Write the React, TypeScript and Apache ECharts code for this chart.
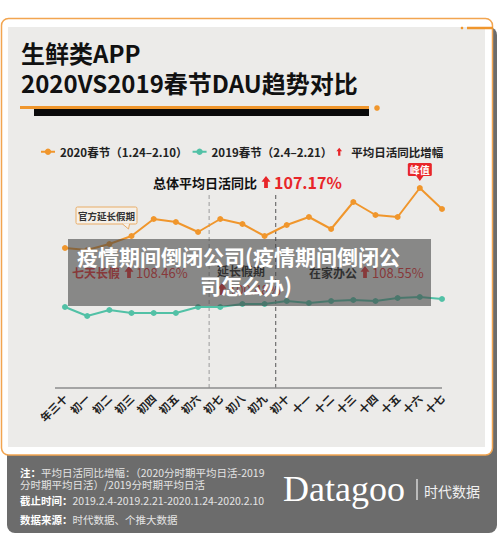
import React, { useEffect, useRef } from 'react';
import * as echarts from 'echarts';

const categories = ['年三十', '初一', '初二', '初三', '初四', '初五', '初六', '初七', '初八', '初九', '初十', '十一', '十二', '十三', '十四', '十五', '十六', '十七'];
const dau2020 = [140, 138, 144, 152, 169, 166, 156, 169, 164, 152, 163, 171, 159, 186, 173, 171, 200, 179];
const dau2019 = [81, 72, 78, 75, 75, 75, 81, 81, 84, 84, 87, 85, 87, 88, 87, 90, 91, 89];
const seriesNames = ['2020春节（1.24–2.10）', '2019春节（2.4–2.21）'];
const growthLegend = '平均日活同比增幅';
const titleLines = ['生鲜类APP', '2020VS2019春节DAU趋势对比'];
const overallLabel = '总体平均日活同比';
const overallGrowth = '107.17%';
const phaseNames = ['七天长假', '延长假期', '在家办公'];
const phaseGrowth = ['108.46%', '100.48%', '108.55%'];
const phaseBoundaries = [7, 10];
const calloutText = '官方延长假期';
const calloutIndex = 3;
const peakText = '峰值';
const watermarkLines = ['疫情期间倒闭公司(疫情期间倒闭公', '司怎么办)'];
const noteLabel = '注：';
const noteLines = ['平均日活同比增幅：（2020分时期平均日活-2019', '分时期平均日活）/2019分时期平均日活'];
const periodLabel = '截止时间：';
const periodText = '2019.2.4-2019.2.21-2020.1.24-2020.2.10';
const sourceLabel = '数据来源：';
const sourceText = '时代数据、个推大数据';
const brandText = 'Datagoo';
const brandCn = '时代数据';

const FONT = '"Noto Sans CJK SC", "Noto Sans", sans-serif';
const ORANGE = '#f0962c';
const TEAL = '#52c1a6';
const RED = '#e8262a';

function arrow(cx: number, top: number, h: number, w: number, color: string, z: number) {
  const hh = h * 0.48;
  const sw = w * 0.42;
  return {
    type: 'polygon',
    z,
    shape: {
      points: [
        [cx, top], [cx + w / 2, top + hh], [cx + sw / 2, top + hh], [cx + sw / 2, top + h],
        [cx - sw / 2, top + h], [cx - sw / 2, top + hh], [cx - w / 2, top + hh],
      ],
    },
    style: { fill: color },
  };
}

function txt(text: string, x: number, y: number, size: number, color: string, weight: string, z: number, align = 'left', family = FONT) {
  return {
    type: 'text',
    x,
    y,
    z,
    style: { text, fill: color, fontSize: size, fontWeight: weight, fontFamily: family, textAlign: align, textVerticalAlign: 'middle' },
  };
}

export default function App() {
  const ref = useRef<HTMLDivElement>(null);
  useEffect(() => {
    if (!ref.current) return;
    const chart = echarts.init(ref.current, undefined, { renderer: 'svg' });
    const option: any = {
      animation: false,
      backgroundColor: '#ffffff',
      grid: { left: 65, right: 58, top: 178, bottom: 157, containLabel: false },
      legend: {
        left: 35,
        top: 141,
        itemWidth: 14,
        itemHeight: 8,
        itemGap: 4,
        selectedMode: false,
        z: 10,
        textStyle: { fontSize: 11.5, fontWeight: 'bold', color: '#222', fontFamily: FONT },
        data: [
          { name: seriesNames[0] },
          { name: seriesNames[1] },
          { name: growthLegend, icon: 'path://M5,0L10,6L7,6L7,14L3,14L3,6L0,6Z', itemStyle: { color: RED } },
        ],
      },
      xAxis: {
        type: 'category',
        data: categories,
        boundaryGap: false,
        z: 10,
        axisLine: { show: false },
        axisTick: { show: false },
        axisLabel: { rotate: 45, interval: 0, fontSize: 11, fontWeight: 'bold', color: '#222', margin: 8, fontFamily: FONT },
        splitLine: { show: false },
      },
      yAxis: { type: 'value', min: 0, max: 210, show: false, splitLine: { show: false } },
      series: [
        {
          name: seriesNames[0], type: 'line', data: dau2020, z: 10, symbol: 'circle', symbolSize: 6,
          color: ORANGE, lineStyle: { width: 2, color: ORANGE }, itemStyle: { color: ORANGE },
        },
        {
          name: seriesNames[1], type: 'line', data: dau2019, z: 10, symbol: 'circle', symbolSize: 6,
          color: TEAL, lineStyle: { width: 2, color: TEAL }, itemStyle: { color: TEAL },
        },
        { name: growthLegend, type: 'line', data: [], color: RED },
      ],
    };
    chart.setOption(option);

    const px = (i: number, v: number) => chart.convertToPixel({ gridIndex: 0 }, [i, v]) as number[];
    const axisY = px(0, 0)[1];
    const firstX = px(0, 0)[0];
    const lastX = px(categories.length - 1, 0)[0];
    const dashed = phaseBoundaries.map((b, k) => {
      const x = (px(b - 1, 0)[0] + px(b, 0)[0]) / 2;
      return {
        type: 'line', z: 5,
        shape: { x1: x, y1: 195, x2: x, y2: axisY },
        style: { stroke: k === 0 ? '#a8a8a8' : '#6e6e6e', lineWidth: 1.2, lineDash: [4, 3] },
      };
    });
    let peakIdx = 0;
    dau2020.forEach((v, i) => { if (v > dau2020[peakIdx]) peakIdx = i; });
    const peak = px(peakIdx, dau2020[peakIdx]);
    const call = px(calloutIndex, dau2020[calloutIndex]);

    const graphics: any[] = [
      { type: 'rect', z: 0, shape: { x: 7, y: 27, width: 490, height: 506, r: 8 }, style: { fill: '#6c6c6c' } },
      { type: 'rect', z: 1, shape: { x: 1.5, y: 18.5, width: 491, height: 436.5, r: 7 }, style: { fill: '#ffffff', stroke: '#f2a550', lineWidth: 1.5 } },
      { type: 'rect', z: 2, shape: { x: 8, y: 27, width: 477, height: 420 }, style: { fill: '#ecebe9' } },
      { type: 'line', z: 3, shape: { x1: 467, y1: 28, x2: 493, y2: 28 }, style: { stroke: ORANGE, lineWidth: 2.5 } },
      { type: 'circle', z: 3, shape: { cx: 462, cy: 28, r: 1.3 }, style: { fill: ORANGE } },
      txt(titleLines[0], 21, 52, 24, '#111', 'bold', 3),
      txt(titleLines[1], 21, 82, 24, '#111', 'bold', 3),
      { type: 'rect', z: 3, shape: { x: 20, y: 106, width: 349, height: 3 }, style: { fill: ORANGE } },
      { type: 'rect', z: 3, shape: { x: 34, y: 109, width: 335, height: 7 }, style: { fill: '#0a0a0a' } },
      { type: 'circle', z: 3, shape: { cx: 377, cy: 108, r: 2.8 }, style: { fill: ORANGE } },
      txt(overallLabel, 153, 182, 13, '#111', 'bold', 3),
      arrow(266, 176, 12, 9, RED, 3),
      txt(overallGrowth, 274, 182, 16, RED, 'bold', 3),
      ...dashed,
      { type: 'line', z: 5, shape: { x1: firstX - 10, y1: axisY, x2: lastX, y2: axisY }, style: { stroke: '#8c8c8c', lineWidth: 1.5 } },
      // callout
      { type: 'rect', z: 20, shape: { x: 76, y: 207, width: 61, height: 17, r: 1.5 }, style: { fill: '#f5f0e9', stroke: '#e9ac66', lineWidth: 1 } },
      { type: 'polygon', z: 21, shape: { points: [[call[0] - 9, 223.5], [call[0] - 2, 223.5], [call[0] - 3, call[1] - 7]] }, style: { fill: '#f5f0e9' } },
      { type: 'polyline', z: 21, shape: { points: [[call[0] - 9, 224], [call[0] - 3, call[1] - 7], [call[0] - 2, 224]] }, style: { stroke: '#e9ac66', lineWidth: 1, fill: null } },
      txt(calloutText, 106.5, 215.5, 9.5, '#333', 'bold', 22, 'center'),
      // peak
      { type: 'rect', z: 20, shape: { x: peak[0] - 12, y: peak[1] - 25, width: 24, height: 13, r: 1.5 }, style: { fill: RED } },
      { type: 'polygon', z: 20, shape: { points: [[peak[0] - 4, peak[1] - 12.5], [peak[0] + 4, peak[1] - 12.5], [peak[0], peak[1] - 7]] }, style: { fill: RED } },
      txt(peakText, peak[0], peak[1] - 18.5, 10, '#fff', 'bold', 22, 'center'),
      // phases
      txt(phaseNames[0], 72, 272, 12, RED, 'bold', 20),
      arrow(129, 266, 12, 9, RED, 20),
      txt(phaseGrowth[0], 136, 272, 13, RED, 'normal', 20),
      txt(phaseNames[1], 217, 270, 12, '#111', 'bold', 20),
      arrow(222, 283, 12, 9, RED, 20),
      txt(phaseGrowth[1], 229, 289, 13, RED, 'normal', 20),
      txt(phaseNames[2], 309, 272, 12, '#111', 'bold', 20),
      arrow(365, 266, 12, 9, RED, 20),
      txt(phaseGrowth[2], 372, 272, 13, RED, 'normal', 20),
      // watermark overlay
      { type: 'rect', z: 100, shape: { x: 68, y: 239, width: 363, height: 67 }, style: { fill: 'rgba(70,70,70,0.6)' } },
      txt(watermarkLines[0], 238.5, 256, 21, '#ffffff', 'bold', 101, 'center'),
      txt(watermarkLines[1], 246, 285, 21, '#ffffff', 'bold', 101, 'center'),
      // footer
      {
        type: 'text', x: 20, y: 472, z: 5,
        style: {
          text: `{b|${noteLabel}}{n|${noteLines[0]}}`, textVerticalAlign: 'middle',
          rich: { b: { fontSize: 10.5, fontWeight: 'bold', fill: '#ffffff', fontFamily: FONT }, n: { fontSize: 10.5, fill: '#e4e4e4', fontFamily: FONT } },
        },
      },
      txt(noteLines[1], 20, 484, 10.5, '#e4e4e4', 'normal', 5),
      {
        type: 'text', x: 20, y: 500, z: 5,
        style: {
          text: `{b|${periodLabel}}{n|${periodText}}`, textVerticalAlign: 'middle',
          rich: { b: { fontSize: 10.5, fontWeight: 'bold', fill: '#ffffff', fontFamily: FONT }, n: { fontSize: 10.5, fill: '#e4e4e4', fontFamily: FONT } },
        },
      },
      {
        type: 'text', x: 20, y: 519, z: 5,
        style: {
          text: `{b|${sourceLabel}}{n|${sourceText}}`, textVerticalAlign: 'middle',
          rich: { b: { fontSize: 10.5, fontWeight: 'bold', fill: '#ffffff', fontFamily: FONT }, n: { fontSize: 10.5, fill: '#e4e4e4', fontFamily: FONT } },
        },
      },
      txt(brandText, 283, 489, 36, '#ffffff', 'normal', 5, 'left', '"Liberation Serif", "DejaVu Serif", serif'),
      { type: 'line', z: 5, shape: { x1: 417, y1: 479, x2: 417, y2: 500 }, style: { stroke: '#f0f0f0', lineWidth: 1.2 } },
      txt(brandCn, 424, 491, 14, '#f0f0f0', 'normal', 5),
    ];
    chart.setOption({ graphic: graphics });
    return () => chart.dispose();
  }, []);
  return <div ref={ref} style={{ width: 500, height: 545, position: 'absolute', left: 0, top: 0 }} />;
}
